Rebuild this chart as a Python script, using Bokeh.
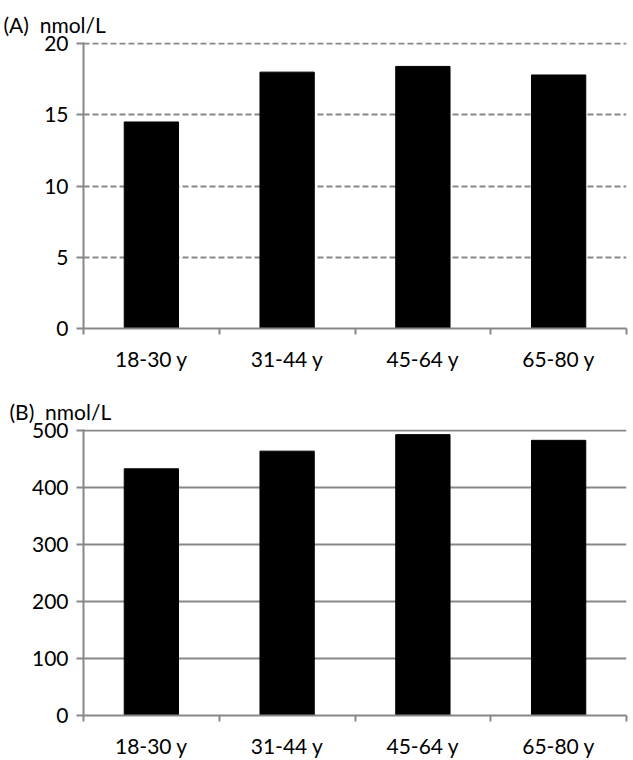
from bokeh.plotting import figure
from bokeh.models import FixedTicker, Range1d, Title, Column
from bokeh.embed import file_html
from bokeh.resources import INLINE

categories = ["18-30 y", "31-44 y", "45-64 y", "65-80 y"]
values_a = [14.5, 18.0, 18.4, 17.8]
values_b = [433, 464, 493, 483]
yticks_a = [0, 5, 10, 15, 20]
yticks_b = [0, 100, 200, 300, 400, 500]
unit_label = "nmol/L"

FONT = "Lato"
FS = "21px"
GRAY = "#878787"
xpos = [i + 0.5 for i in range(len(categories))]
overrides = {x: c for x, c in zip(xpos, categories)}


def make_panel(vals, yticks, ymax, height, left, right, top, bottom, dashed, tag, off, standoff):
    p = figure(width=630, height=height, output_backend="svg", toolbar_location=None,
               x_range=Range1d(0, len(categories)), y_range=Range1d(0, ymax * 1.004),
               min_border_left=left, min_border_right=right,
               min_border_top=top, min_border_bottom=bottom)
    p.outline_line_color = None
    p.background_fill_color = "white"
    p.vbar(x=xpos, top=vals, width=0.4, fill_color="black", line_color="black")

    xa = p.xaxis[0]
    xa.ticker = FixedTicker(ticks=xpos, minor_ticks=list(range(len(categories) + 1)))
    xa.major_label_overrides = overrides
    xa.major_tick_in = 0
    xa.major_tick_out = 0
    xa.minor_tick_in = 0
    xa.minor_tick_out = 6
    xa.minor_tick_line_color = GRAY
    xa.minor_tick_line_width = 2
    xa.axis_line_color = GRAY
    xa.axis_line_width = 2
    xa.major_label_text_font = FONT
    xa.major_label_text_font_size = FS
    xa.major_label_text_color = "black"
    xa.major_label_standoff = 11

    ya = p.yaxis[0]
    ya.ticker = FixedTicker(ticks=yticks, minor_ticks=[])
    ya.major_tick_in = 0
    ya.major_tick_out = 7
    ya.major_tick_line_color = GRAY
    ya.major_tick_line_width = 2
    ya.axis_line_color = GRAY
    ya.axis_line_width = 2
    ya.major_label_text_font = FONT
    ya.major_label_text_font_size = FS
    ya.major_label_text_color = "black"
    ya.major_label_standoff = 8

    p.xgrid.grid_line_color = None
    p.ygrid.ticker = FixedTicker(ticks=yticks[1:])
    p.ygrid.grid_line_color = GRAY
    p.ygrid.grid_line_width = 2
    if dashed:
        p.ygrid.grid_line_dash = "6 3"

    title = Title(text=tag + "\u00a0\u00a0" + unit_label, align="left", offset=off,
                  text_font=FONT, text_font_size=FS, text_font_style="normal",
                  text_color="black", standoff=standoff)
    p.add_layout(title, "above")
    return p


pa = make_panel(values_a, yticks_a, 20, 387, 83, 0, 42, 59, True, "(A)", -80, 12)
pb = make_panel(values_b, yticks_b, 500, 373, 77, 4, 42, 42, False, "(B)", -74, 12)

layout = Column(pa, pb, spacing=0)
open("out.html", "w").write(file_html(layout, INLINE))
